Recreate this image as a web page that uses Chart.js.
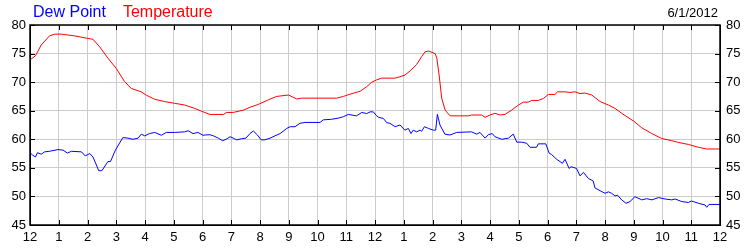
<html>
<head>
    <script src="https://cdn.jsdelivr.net/npm/chart.js@4.4.1/dist/chart.umd.min.js"></script>
    <title>Dew Point / Temperature</title>
    <style>
        body { margin: 0; background: #fff; }
        #wrap { position: relative; width: 750px; height: 250px; font-family: "Liberation Sans", Arial, sans-serif; }
        #legend { position: absolute; left: 33px; top: 3px; font-size: 16px; line-height: 18px; white-space: nowrap; }
        #legend .dew { color: #0000ff; }
        #legend .temp { color: #ff0000; margin-left: 17px; }
        #date { position: absolute; right: 32px; top: 5px; font-size: 13px; line-height: 15px; color: #000; }
    </style>
</head>
<body>
<div id="wrap">
    <canvas id="weather-chart" width="750" height="250"></canvas>
    <div id="legend"><span class="dew">Dew Point</span><span class="temp">Temperature</span></div>
    <div id="date">6/1/2012</div>
</div>

<script>
    // hour labels along the bottom (midnight to midnight)
    var hourLabels = ['12','1','2','3','4','5','6','7','8','9','10','11',
                      '12','1','2','3','4','5','6','7','8','9','10','11','12'];

    // temperature readings (hours since midnight, degrees F)
    var tempHours = [0, 0.19, 0.39, 0.68, 0.86, 1.09, 1.55, 1.96, 2.19, 2.42, 2.71, 3.0, 3.29, 3.52, 3.87,
        4.05, 4.34, 4.68, 5.03, 5.38, 5.73, 6.02, 6.26, 6.73, 6.84, 7.07, 7.42, 7.65, 7.94, 8.29, 8.58,
        8.99, 9.28, 9.45, 10.67, 10.9, 11.13, 11.48, 11.71, 11.89, 12.06, 12.23, 12.7, 12.87, 13.04,
        13.22, 13.45, 13.62, 13.74, 13.86, 14.09, 14.15, 14.23, 14.32, 14.44, 14.61, 15.25, 15.36,
        15.71, 15.83, 16.0, 16.17, 16.35, 16.52, 16.75, 16.99, 17.16, 17.33, 17.45, 17.68, 17.86,
        18.03, 18.26, 18.35, 18.61, 18.78, 18.96, 19.13, 19.3, 19.54, 19.83, 20.12, 20.35, 20.58,
        20.99, 21.28, 21.63, 21.97, 22.32, 22.55, 22.9, 23.25, 23.54, 24.0];
    var tempValues = [73.9, 74.6, 76.5, 78.1, 78.4, 78.4, 78.1, 77.7, 77.5, 76.2, 74.2, 72.4, 70.1, 68.9, 68.3,
        67.7, 67.0, 66.6, 66.3, 66.0, 65.4, 64.8, 64.35, 64.35, 64.7, 64.7, 65.1, 65.6, 66.1, 66.9, 67.5,
        67.75, 67.05, 67.2, 67.2, 67.5, 67.9, 68.4, 69.2, 70.0, 70.4, 70.7, 70.7, 70.95, 71.25,
        71.95, 73.1, 74.45, 75.3, 75.45, 75.0, 74.2, 71.25, 67.2, 65.1, 64.1, 64.1, 64.25,
        64.25, 63.85, 64.25, 64.55, 64.25, 64.35, 65.1, 66.0, 66.5, 66.5, 66.8, 66.8, 67.15,
        67.85, 67.85, 68.3, 68.3, 68.2, 68.3, 68.0, 68.1, 67.75, 66.6, 66.0, 65.4, 64.55,
        63.2, 62.0, 61.0, 60.15, 59.75, 59.45, 59.1, 58.6, 58.3, 58.3];

    // dew point readings
    var dewHours = [0, 0.1, 0.19, 0.26, 0.39, 0.51, 0.68, 0.97, 1.15, 1.3, 1.44, 1.79, 1.92, 2.08, 2.19,
        2.31, 2.39, 2.5, 2.71, 2.8, 2.97, 3.23, 3.41, 3.58, 3.76, 3.87, 3.99, 4.16, 4.34, 4.57, 4.74,
        5.03, 5.38, 5.5, 5.67, 5.84, 6.02, 6.09, 6.26, 6.38, 6.55, 6.7, 6.82, 6.96, 7.07, 7.19, 7.36,
        7.51, 7.65, 7.77, 7.91, 8.04, 8.17, 8.35, 8.52, 8.7, 8.93, 9.05, 9.22, 9.39, 9.57, 10.09,
        10.2, 10.49, 10.72, 10.9, 11.07, 11.36, 11.54, 11.71, 11.83, 11.94, 12.04, 12.12, 12.29,
        12.41, 12.52, 12.7, 12.87, 13.04, 13.16, 13.25, 13.33, 13.45, 13.57, 13.62, 13.72, 13.86,
        14.03, 14.11, 14.17, 14.26, 14.43, 14.61, 14.84, 15.36, 15.54, 15.65, 15.83, 15.94, 16.08,
        16.17, 16.41, 16.64, 16.81, 16.93, 17.1, 17.28, 17.39, 17.62, 17.68, 17.94, 18.06, 18.14,
        18.32, 18.52, 18.61, 18.75, 18.82, 19.01, 19.13, 19.25, 19.42, 19.59, 19.65, 19.83, 20.0,
        20.12, 20.23, 20.35, 20.44, 20.58, 20.73, 20.87, 21.04, 21.28, 21.45, 21.63, 21.86, 22.09,
        22.32, 22.44, 22.67, 22.9, 23.01, 23.25, 23.48, 23.54, 23.62, 24.0];
    var dewValues = [57.65, 57.2, 56.9, 57.65, 57.4, 57.8, 57.9, 58.2, 58.1, 57.6, 57.9, 57.8, 57.1, 57.5, 56.9,
        55.5, 54.5, 54.5, 56.1, 56.1, 58.1, 60.3, 60.2, 60.0, 60.2, 60.9, 60.6, 61.0, 61.2, 60.7, 61.2,
        61.2, 61.3, 61.5, 61.0, 61.2, 60.7, 60.75, 60.8, 60.6, 60.2, 59.75, 60.0, 60.45, 60.2, 59.9, 60.1,
        60.2, 61.0, 61.45, 60.75, 59.9, 59.9, 60.2, 60.6, 61.0, 61.9, 62.2, 62.2, 62.8, 62.95, 62.95,
        63.4, 63.5, 63.7, 63.95, 64.35, 64.1, 64.7, 64.5, 64.8, 64.8, 64.2, 63.85, 63.65,
        62.9, 62.8, 62.2, 62.5, 61.6, 61.9, 61.0, 61.6, 61.3, 61.6, 61.4, 62.2, 61.9,
        61.6, 61.6, 64.35, 62.5, 60.9, 60.75, 61.2, 61.3, 60.9, 61.2, 60.2, 60.8, 61.0,
        60.45, 60.0, 60.2, 60.9, 59.5, 59.5, 59.3, 58.6, 58.6, 59.2, 59.2, 57.55, 57.35,
        56.5, 55.8, 56.5, 54.9, 55.2, 54.9, 53.6, 54.2, 53.15, 52.7, 51.5, 51.0, 50.55,
        50.8, 50.55, 50.1, 50.2, 49.4, 48.8, 49.1, 49.95, 49.4, 49.6, 49.4, 49.8, 49.55,
        49.4, 49.55, 49.1, 48.95, 49.2, 48.8, 48.5, 48.1, 48.6, 48.6];

    function toPoints(xs, ys) {
        return xs.map((x, i) => ({ x: x, y: ys[i] }));
    }

    var font = { family: '"Liberation Sans", Arial, sans-serif', size: 13 };

    // black frame plus short tick marks pointing into the plot
    var framePlugin = {
        id: 'frame',
        afterDraw(chart) {
            var ctx = chart.ctx;
            var a = chart.chartArea;
            var xs = chart.scales.x, ys = chart.scales.y;
            ctx.save();
            ctx.strokeStyle = '#000';
            ctx.lineWidth = 1;
            ctx.beginPath();
            xs.ticks.forEach(t => {
                var px = Math.round(xs.getPixelForValue(t.value)) + 0.5;
                ctx.moveTo(px, a.bottom); ctx.lineTo(px, a.bottom - 5);
                ctx.moveTo(px, a.top); ctx.lineTo(px, a.top + 5);
            });
            ys.ticks.forEach(t => {
                var py = Math.round(ys.getPixelForValue(t.value)) + 0.5;
                ctx.moveTo(a.left, py); ctx.lineTo(a.left + 5, py);
                ctx.moveTo(a.right, py); ctx.lineTo(a.right - 5, py);
            });
            ctx.stroke();
            ctx.lineWidth = 1.5;
            ctx.strokeRect(a.left, a.top, a.right - a.left, a.bottom - a.top);
            ctx.restore();
        }
    };

    new Chart(document.getElementById('weather-chart'), {
        type: 'line',
        data: {
            datasets: [{
                label: 'Temperature',
                data: toPoints(tempHours, tempValues),
                borderColor: '#ff0000',
                borderWidth: 1,
                pointRadius: 0,
                fill: false
            }, {
                label: 'Dew Point',
                data: toPoints(dewHours, dewValues),
                borderColor: '#0000ff',
                borderWidth: 1,
                pointRadius: 0,
                fill: false
            }]
        },
        options: {
            responsive: false,
            animation: false,
            layout: { padding: { top: 25, left: 0, right: 0, bottom: 0 } },
            plugins: { legend: { display: false }, tooltip: { enabled: false } },
            scales: {
                x: {
                    type: 'linear', min: 0, max: 24,
                    afterFit: s => { s.height = 25; },
                    ticks: { stepSize: 1, autoSkip: false, maxRotation: 0, padding: 5, color: '#000', font: font,
                             callback: v => hourLabels[v] },
                    grid: { color: '#cccccc', drawTicks: false },
                    border: { color: '#000' }
                },
                y: {
                    position: 'left', min: 45, max: 80,
                    afterFit: s => { s.width = 30; },
                    ticks: { stepSize: 5, padding: 4, color: '#000', font: font },
                    grid: { color: '#cccccc', drawTicks: false },
                    border: { color: '#000' }
                },
                y2: {
                    position: 'right', min: 45, max: 80,
                    afterFit: s => { s.width = 30; },
                    ticks: { stepSize: 5, padding: 6, color: '#000', font: font },
                    grid: { drawOnChartArea: false, drawTicks: false },
                    border: { color: '#000' }
                }
            }
        },
        plugins: [framePlugin]
    });
</script>
</body>
</html>
